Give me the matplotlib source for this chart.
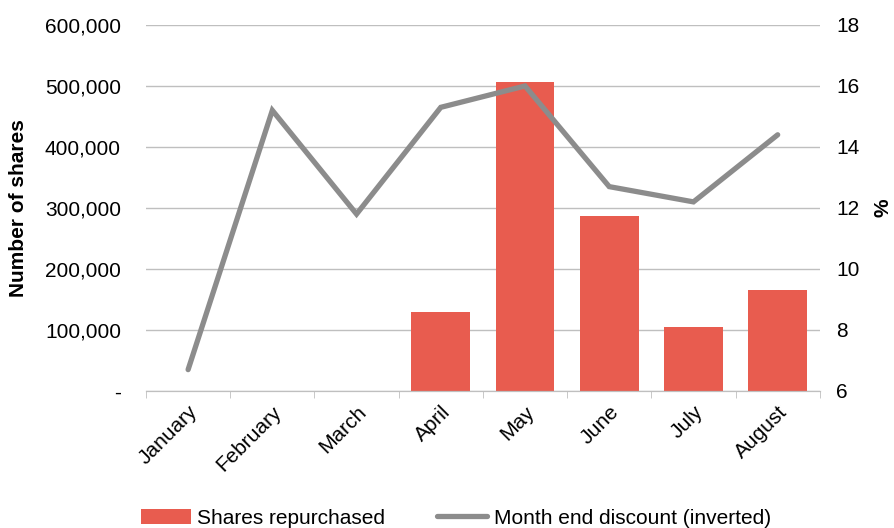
import numpy as np
import matplotlib
matplotlib.use("Agg")
import matplotlib.pyplot as plt
from matplotlib.ticker import FuncFormatter, FixedLocator

plt.rcParams['font.family'] = ['Liberation Sans', 'DejaVu Sans']

months = ["January", "February", "March", "April", "May", "June", "July", "August"]
shares = [0, 0, 0, 129500, 506500, 287000, 105000, 165500]
discount = [6.7, 15.2, 11.8, 15.3, 16.0, 12.7, 12.2, 14.4]

bar_color = '#e85c4f'
line_color = '#8c8c8c'
grid_color = '#bfbfbf'
fs = 15

fig = plt.figure(figsize=(8.94, 5.28), dpi=100)
ax1 = fig.add_axes([0.1633, 0.2595, 0.7537, 0.6932])
ax2 = ax1.twinx()

x = np.arange(len(months))
ax1.bar(x, shares, 0.7, color=bar_color, label="Shares repurchased", zorder=2)
ax2.plot(x, discount, color=line_color, lw=3.8, solid_capstyle='round',
         solid_joinstyle='miter', label="Month end discount (inverted)")

ax1.set_xlim(-0.5, len(months) - 0.5)
ax1.set_ylim(0, 600000)
ax1.set_yticks(np.arange(0, 600001, 100000))
ax1.yaxis.set_major_formatter(FuncFormatter(lambda v, p: "-" if v == 0 else "{:,.0f}".format(v)))
ax2.set_ylim(6, 18)
ax2.set_yticks(np.arange(6, 19, 2))

ax1.yaxis.grid(True, color=grid_color, lw=1)
ax1.set_axisbelow(True)

for ax in (ax1, ax2):
    for s in ['top', 'left', 'right']:
        ax.spines[s].set_visible(False)
    ax.spines['bottom'].set_color(grid_color)
ax1.tick_params(axis='y', length=0, labelsize=fs, pad=18, colors='black')
ax2.tick_params(axis='y', length=0, labelsize=fs, pad=12, colors='black')

ax1.set_xticks(x)
ax1.set_xticklabels(months, rotation=45, ha='right', rotation_mode='anchor', fontsize=fs)
ax1.tick_params(axis='x', length=0, pad=8)
ax1.xaxis.set_minor_locator(FixedLocator(np.arange(-0.5, len(months), 1.0)))
ax1.tick_params(axis='x', which='minor', length=5, color=grid_color)

ax1.set_ylabel("Number of shares", fontsize=fs, fontweight='bold', labelpad=12)
ax2.set_ylabel("%", fontsize=fs, fontweight='bold', labelpad=10)

h1, l1 = ax1.get_legend_handles_labels()
h2, l2 = ax2.get_legend_handles_labels()
fig.legend(h1 + h2, l1 + l2, loc='lower center', bbox_to_anchor=(0.51, -0.035),
           ncol=2, frameon=False, fontsize=fs, handlelength=2.4,
           handletextpad=0.3, columnspacing=2.5)

fig.savefig('out.png', dpi=100)
